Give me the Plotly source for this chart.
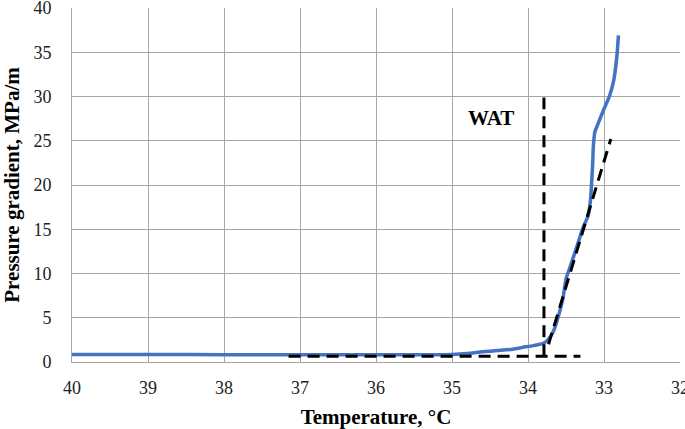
import plotly.graph_objects as go

# measured curve: temperature (°C) vs pressure gradient (MPa/m)
temp = [40.0, 39.0, 38.0, 37.0, 36.0, 35.2, 35.0, 34.8, 34.6, 34.4, 34.2, 34.07, 33.93,
        33.80, 33.74, 33.67, 33.61, 33.54, 33.50, 33.44, 33.35, 33.28, 33.21, 33.18, 33.165,
        33.15, 33.14, 33.12, 33.07, 33.00, 32.93, 32.87, 32.83, 32.81]
grad = [0.85, 0.84, 0.83, 0.83, 0.83, 0.83, 0.85, 0.95, 1.15, 1.3, 1.45, 1.65, 1.85,
        2.1, 2.5, 3.4, 4.9, 7.2, 9.4, 10.9, 13.2, 15.1, 16.5, 18.1, 19.9,
        22.2, 24.4, 26.0, 27.1, 28.6, 30.0, 31.9, 34.6, 36.9]

# tangent lines used to read the WAT
base_t = [37.15, 33.31]
base_p = [0.65, 0.65]
slope_t = [33.73, 32.91]
slope_p = [2.0, 25.2]
wat_t = [33.79, 33.79]
wat_p = [0.65, 29.9]

dash = dict(color="black", width=3, dash="12px,7px")

fig = go.Figure()
fig.add_trace(go.Scatter(x=temp, y=grad, mode="lines",
                         line=dict(color="#4472C4", width=3.5, shape="spline", smoothing=0.5)))
fig.add_trace(go.Scatter(x=base_t, y=base_p, mode="lines", line=dash))
fig.add_trace(go.Scatter(x=slope_t, y=slope_p, mode="lines", line=dash))
fig.add_trace(go.Scatter(x=wat_t, y=wat_p, mode="lines", line=dash))

fig.add_annotation(x=34.49, y=27.6, text="<b>WAT</b>", showarrow=False,
                   font=dict(family="Liberation Serif", size=21, color="black"))

axis_font = dict(family="Liberation Serif", size=18, color="#222")
title_font = dict(family="Liberation Serif", size=21, color="black")

fig.update_layout(
    width=685, height=429,
    margin=dict(l=72, r=5, t=8, b=67),
    plot_bgcolor="white", paper_bgcolor="white",
    showlegend=False,
    xaxis=dict(range=[40, 32], dtick=1, tick0=32, showgrid=True, gridcolor="#a6a6a6",
               gridwidth=1, showline=True, linecolor="#a6a6a6", zeroline=False,
               tickfont=axis_font, ticks="", ticklabeloverflow="allow", automargin=False,
               ticklabelstandoff=9,
               title=dict(text="<b>Temperature, °C</b>", font=title_font, standoff=14)),
    yaxis=dict(range=[0, 40], dtick=5, showgrid=True, gridcolor="#a6a6a6", gridwidth=1,
               showline=True, linecolor="#a6a6a6", zeroline=False,
               tickfont=axis_font, ticks="", ticklabelstandoff=16, ticklabeloverflow="allow",
               automargin=False,
               title=dict(text="<b>Pressure gradient, MPa/m</b>", font=title_font, standoff=15)),
)

# page body has an 8px default margin; drop it so the chart sits at the window corner
fig.write_html("out.html", config={"displayModeBar": False},
               post_script="document.body.style.margin='0';")
